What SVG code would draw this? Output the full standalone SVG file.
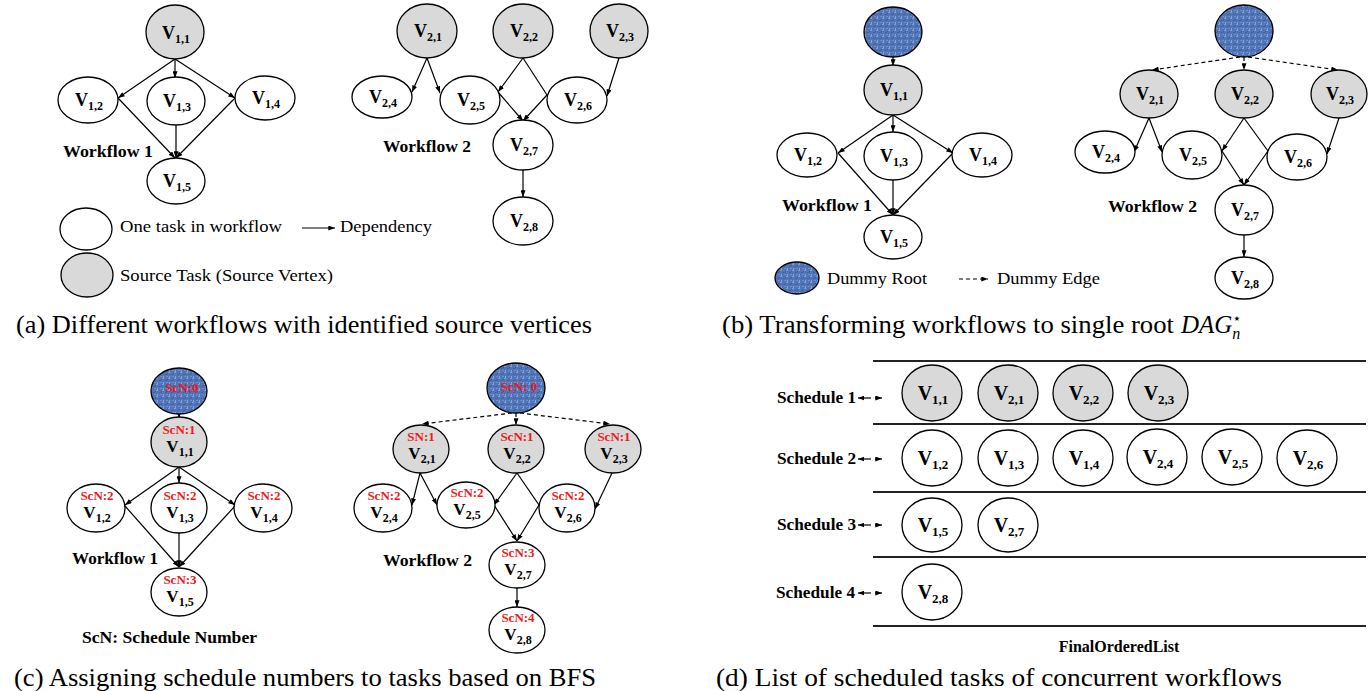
<svg xmlns="http://www.w3.org/2000/svg" width="1368" height="691" viewBox="0 0 1368 691">
<defs>
<pattern id="tex" width="6" height="6" patternUnits="userSpaceOnUse">
<rect width="6" height="6" fill="#5275b8"/>
<rect x="0" y="0" width="2" height="1" fill="#7f9dd4"/>
<rect x="3" y="2" width="2" height="1" fill="#3f609f"/>
<rect x="1" y="4" width="1" height="2" fill="#88a3d7"/>
<rect x="4" y="4" width="2" height="1" fill="#6d8ecb"/>
<rect x="5" y="1" width="1" height="1" fill="#3a5a98"/>
</pattern>
<marker id="ah" viewBox="0 0 8 6" refX="8" refY="3" markerWidth="7" markerHeight="5" markerUnits="userSpaceOnUse" orient="auto">
<path d="M0,0 L8,3 L0,6 z" fill="#000"/>
</marker>
<marker id="ahs" viewBox="0 0 8 6" refX="0" refY="3" markerWidth="6" markerHeight="5" markerUnits="userSpaceOnUse" orient="auto">
<path d="M8,0 L0,3 L8,6 z" fill="#000"/>
</marker>
<style>
ellipse{stroke:#000;stroke-width:1.3}
.w{fill:#fff}
.g{fill:#d9d9d9}
.b{fill:url(#tex)}
.e{stroke:#000;stroke-width:1.2;fill:none}
.a{marker-end:url(#ah)}
.d{stroke-dasharray:4 3}
.row{stroke:#222;stroke-width:2}
text{font-family:"Liberation Serif","Times New Roman",serif;fill:#000}
.v{font-weight:bold;font-size:18px;text-anchor:middle}
.s{font-size:12px}
.vc{font-weight:bold;font-size:17px;text-anchor:middle}
.vd{font-weight:bold;font-size:20px;text-anchor:middle}
.sd{font-size:13px}
.scn{font-weight:bold;font-size:13px;fill:#f01818;text-anchor:middle}
.wf{font-weight:bold;font-size:16px}
.lg{font-size:16px}
.sch{font-weight:bold;font-size:16px}
.cap{font-size:25px}
</style>
</defs>

<!-- connectors -->
<g id="connectors">
<!-- (a) workflow 1 -->
<path class="e a" d="M175,59 L118,98"/>
<path class="e a" d="M175,59 L175,78"/>
<path class="e a" d="M175,59 L235,98"/>
<path class="e a" d="M118,98 L175,158"/>
<path class="e a" d="M176,125 L176,158"/>
<path class="e a" d="M235,98 L176,158"/>
<!-- (a) workflow 2 -->
<path class="e a" d="M427,58 L412,92"/>
<path class="e a" d="M427,58 L440,93"/>
<path class="e a" d="M523,58 L498,92"/>
<path class="e" d="M523,58 L547,95"/>
<path class="e a" d="M498,92 L523,121"/>
<path class="e a" d="M547,95 L523,121"/>
<path class="e a" d="M619,58 L607,96"/>
<path class="e a" d="M523,170 L523,197"/>
<!-- (a) legend -->
<path class="e a" d="M302,228 L335,228"/>
<!-- (b) workflow 1 -->
<path class="e a d" d="M893,57 L893,66"/>
<path class="e a" d="M893,115 L838,153"/>
<path class="e a" d="M893,115 L893,132"/>
<path class="e a" d="M893,115 L953,153"/>
<path class="e a" d="M838,153 L893,215"/>
<path class="e a" d="M893,180 L893,215"/>
<path class="e a" d="M953,153 L893,215"/>
<!-- (b) workflow 2 -->
<path class="e a d" d="M1240,57 L1152,70"/>
<path class="e a d" d="M1244,57 L1244,70"/>
<path class="e a d" d="M1248,57 L1338,70"/>
<path class="e a" d="M1149,118 L1134,152"/>
<path class="e a" d="M1149,118 L1162,152"/>
<path class="e a" d="M1244,118 L1222,151"/>
<path class="e" d="M1244,118 L1268,151"/>
<path class="e a" d="M1222,151 L1244,185"/>
<path class="e a" d="M1268,151 L1244,185"/>
<path class="e a" d="M1339,118 L1327,154"/>
<path class="e a" d="M1244,235 L1244,257"/>
<!-- (b) legend -->
<path class="e a d" d="M959,279 L988,279"/>
<!-- (c) workflow 1 -->
<path class="e a" d="M179,413 L179,418"/>
<path class="e a" d="M179,467 L125,505"/>
<path class="e a" d="M179,467 L179,483"/>
<path class="e a" d="M179,467 L235,505"/>
<path class="e a" d="M125,506 L179,567"/>
<path class="e a" d="M179,533 L179,567"/>
<path class="e a" d="M235,506 L179,567"/>
<!-- (c) workflow 2 -->
<path class="e a d" d="M512,413 L422,424"/>
<path class="e a d" d="M516,413 L516,425"/>
<path class="e a d" d="M520,413 L610,424"/>
<path class="e a" d="M420,473 L412,505"/>
<path class="e a" d="M420,473 L437,505"/>
<path class="e a" d="M517,473 L494,505"/>
<path class="e" d="M517,473 L539,505"/>
<path class="e a" d="M494,505 L517,541"/>
<path class="e a" d="M539,505 L517,541"/>
<path class="e a" d="M612,473 L595,509"/>
<path class="e a" d="M517,588 L517,607"/>
<!-- (d) schedule pointers -->
<path class="e" d="M858,398 L871,398" style="marker-start:url(#ahs)"/>
<path class="e a" d="M875,398 L882,398"/>
<path class="e" d="M858,459 L871,459" style="marker-start:url(#ahs)"/>
<path class="e a" d="M875,459 L882,459"/>
<path class="e" d="M858,525 L871,525" style="marker-start:url(#ahs)"/>
<path class="e a" d="M875,525 L882,525"/>
<path class="e" d="M858,593 L871,593" style="marker-start:url(#ahs)"/>
<path class="e a" d="M875,593 L882,593"/>
</g>

<!-- (a) nodes -->
<g id="a-v11"><ellipse class="g" cx="175" cy="32" rx="29" ry="27"/><text class="v" x="176" y="39">V<tspan class="s" dy="4">1,1</tspan></text></g>
<g id="a-v12"><ellipse class="w" cx="88" cy="100" rx="30" ry="23"/><text class="v" x="89" y="106">V<tspan class="s" dy="4">1,2</tspan></text></g>
<g id="a-v13"><ellipse class="w" cx="176" cy="101" rx="29" ry="24"/><text class="v" x="177" y="107">V<tspan class="s" dy="4">1,3</tspan></text></g>
<g id="a-v14"><ellipse class="w" cx="265" cy="98" rx="30" ry="22"/><text class="v" x="266" y="104">V<tspan class="s" dy="4">1,4</tspan></text></g>
<g id="a-v15"><ellipse class="w" cx="176" cy="181" rx="29" ry="23"/><text class="v" x="177" y="187">V<tspan class="s" dy="4">1,5</tspan></text></g>
<g id="a-v21"><ellipse class="g" cx="427" cy="31" rx="30" ry="27"/><text class="v" x="428" y="37">V<tspan class="s" dy="4">2,1</tspan></text></g>
<g id="a-v22"><ellipse class="g" cx="523" cy="31" rx="30" ry="27"/><text class="v" x="524" y="37">V<tspan class="s" dy="4">2,2</tspan></text></g>
<g id="a-v23"><ellipse class="g" cx="619" cy="31" rx="29" ry="27"/><text class="v" x="620" y="37">V<tspan class="s" dy="4">2,3</tspan></text></g>
<g id="a-v24"><ellipse class="w" cx="382" cy="97" rx="30" ry="21"/><text class="v" x="383" y="103">V<tspan class="s" dy="4">2,4</tspan></text></g>
<g id="a-v25"><ellipse class="w" cx="470" cy="100" rx="30" ry="24"/><text class="v" x="471" y="106">V<tspan class="s" dy="4">2,5</tspan></text></g>
<g id="a-v26"><ellipse class="w" cx="577" cy="100" rx="30" ry="23"/><text class="v" x="578" y="106">V<tspan class="s" dy="4">2,6</tspan></text></g>
<g id="a-v27"><ellipse class="w" cx="523" cy="145" rx="30" ry="25"/><text class="v" x="524" y="151">V<tspan class="s" dy="4">2,7</tspan></text></g>
<g id="a-v28"><ellipse class="w" cx="523" cy="221" rx="30" ry="24"/><text class="v" x="524" y="227">V<tspan class="s" dy="4">2,8</tspan></text></g>
<g id="a-labels">
<text class="wf" x="63" y="157" textLength="90" lengthAdjust="spacingAndGlyphs">Workflow 1</text>
<text class="wf" x="383" y="152" textLength="88" lengthAdjust="spacingAndGlyphs">Workflow 2</text>
</g>
<g id="a-legend">
<ellipse class="w" cx="86" cy="229" rx="26" ry="21"/>
<ellipse class="g" cx="87" cy="275" rx="26" ry="22"/>
<text class="lg" x="120" y="232" textLength="162" lengthAdjust="spacingAndGlyphs">One task in workflow</text>
<text class="lg" x="340" y="232" textLength="92" lengthAdjust="spacingAndGlyphs">Dependency</text>
<text class="lg" x="120" y="281" textLength="213" lengthAdjust="spacingAndGlyphs">Source Task (Source Vertex)</text>
</g>
<text class="cap" x="16" y="333" textLength="576" lengthAdjust="spacingAndGlyphs">(a) Different workflows with identified source vertices</text>

<!-- (b) nodes -->
<g id="b-root1"><ellipse class="b" cx="893" cy="32" rx="29" ry="25"/></g>
<g id="b-v11"><ellipse class="g" cx="893" cy="90" rx="29" ry="25"/><text class="v" x="894" y="96">V<tspan class="s" dy="4">1,1</tspan></text></g>
<g id="b-v12"><ellipse class="w" cx="807" cy="155" rx="30" ry="22"/><text class="v" x="808" y="161">V<tspan class="s" dy="4">1,2</tspan></text></g>
<g id="b-v13"><ellipse class="w" cx="893" cy="156" rx="29" ry="24"/><text class="v" x="894" y="162">V<tspan class="s" dy="4">1,3</tspan></text></g>
<g id="b-v14"><ellipse class="w" cx="982" cy="155" rx="30" ry="22"/><text class="v" x="983" y="161">V<tspan class="s" dy="4">1,4</tspan></text></g>
<g id="b-v15"><ellipse class="w" cx="893" cy="237" rx="29" ry="22"/><text class="v" x="894" y="243">V<tspan class="s" dy="4">1,5</tspan></text></g>
<g id="b-root2"><ellipse class="b" cx="1244" cy="31" rx="29" ry="26"/></g>
<g id="b-v21"><ellipse class="g" cx="1149" cy="94" rx="29" ry="24"/><text class="v" x="1150" y="100">V<tspan class="s" dy="4">2,1</tspan></text></g>
<g id="b-v22"><ellipse class="g" cx="1244" cy="94" rx="29" ry="24"/><text class="v" x="1245" y="100">V<tspan class="s" dy="4">2,2</tspan></text></g>
<g id="b-v23"><ellipse class="g" cx="1339" cy="94" rx="28" ry="24"/><text class="v" x="1340" y="100">V<tspan class="s" dy="4">2,3</tspan></text></g>
<g id="b-v24"><ellipse class="w" cx="1105" cy="152" rx="30" ry="21"/><text class="v" x="1106" y="158">V<tspan class="s" dy="4">2,4</tspan></text></g>
<g id="b-v25"><ellipse class="w" cx="1192" cy="155" rx="30" ry="24"/><text class="v" x="1193" y="161">V<tspan class="s" dy="4">2,5</tspan></text></g>
<g id="b-v26"><ellipse class="w" cx="1297" cy="157" rx="30" ry="23"/><text class="v" x="1298" y="163">V<tspan class="s" dy="4">2,6</tspan></text></g>
<g id="b-v27"><ellipse class="w" cx="1244" cy="210" rx="29" ry="25"/><text class="v" x="1245" y="216">V<tspan class="s" dy="4">2,7</tspan></text></g>
<g id="b-v28"><ellipse class="w" cx="1244" cy="278" rx="29" ry="21"/><text class="v" x="1245" y="284">V<tspan class="s" dy="4">2,8</tspan></text></g>
<g id="b-labels">
<text class="wf" x="782" y="211" textLength="90" lengthAdjust="spacingAndGlyphs">Workflow 1</text>
<text class="wf" x="1108" y="212" textLength="89" lengthAdjust="spacingAndGlyphs">Workflow 2</text>
</g>
<g id="b-legend">
<ellipse class="b" cx="797" cy="278" rx="22" ry="16"/>
<text class="lg" x="827" y="284" textLength="100" lengthAdjust="spacingAndGlyphs">Dummy Root</text>
<text class="lg" x="997" y="284" textLength="103" lengthAdjust="spacingAndGlyphs">Dummy Edge</text>
</g>
<text class="cap" x="722" y="333" textLength="452" lengthAdjust="spacingAndGlyphs">(b) Transforming workflows to single root</text>
<text class="cap" x="1181" y="333"><tspan font-style="italic">DAG</tspan><tspan font-size="14" dy="-10" font-family="DejaVu Sans, sans-serif">⋆</tspan><tspan font-size="16" font-style="italic" dx="-9" dy="16">n</tspan></text>

<!-- (c) nodes -->
<g id="c-root1"><ellipse class="b" cx="179" cy="391" rx="28" ry="23"/><text class="scn" x="182" y="392">ScN:0</text></g>
<g id="c-v11"><ellipse class="g" cx="179" cy="442" rx="28" ry="25"/><text class="scn" x="179" y="434">ScN:1</text><text class="vc" x="180" y="452">V<tspan class="s" dy="4">1,1</tspan></text></g>
<g id="c-v12"><ellipse class="w" cx="96" cy="508" rx="29" ry="24"/><text class="scn" x="97" y="500">ScN:2</text><text class="vc" x="97" y="518">V<tspan class="s" dy="4">1,2</tspan></text></g>
<g id="c-v13"><ellipse class="w" cx="179" cy="508" rx="28" ry="25"/><text class="scn" x="180" y="500">ScN:2</text><text class="vc" x="180" y="518">V<tspan class="s" dy="4">1,3</tspan></text></g>
<g id="c-v14"><ellipse class="w" cx="263" cy="508" rx="29" ry="24"/><text class="scn" x="264" y="500">ScN:2</text><text class="vc" x="264" y="518">V<tspan class="s" dy="4">1,4</tspan></text></g>
<g id="c-v15"><ellipse class="w" cx="179" cy="592" rx="28" ry="24"/><text class="scn" x="180" y="584">ScN:3</text><text class="vc" x="180" y="602">V<tspan class="s" dy="4">1,5</tspan></text></g>
<g id="c-root2"><ellipse class="b" cx="516" cy="388" rx="29" ry="25"/><text class="scn" x="519" y="391">ScN: 0</text></g>
<g id="c-v21"><ellipse class="g" cx="421" cy="449" rx="28" ry="24"/><text class="scn" x="421" y="441">SN:1</text><text class="vc" x="422" y="459">V<tspan class="s" dy="4">2,1</tspan></text></g>
<g id="c-v22"><ellipse class="g" cx="516" cy="449" rx="28" ry="24"/><text class="scn" x="517" y="441">ScN:1</text><text class="vc" x="517" y="459">V<tspan class="s" dy="4">2,2</tspan></text></g>
<g id="c-v23"><ellipse class="g" cx="613" cy="449" rx="28" ry="24"/><text class="scn" x="614" y="441">ScN:1</text><text class="vc" x="614" y="459">V<tspan class="s" dy="4">2,3</tspan></text></g>
<g id="c-v24"><ellipse class="w" cx="383" cy="508" rx="29" ry="24"/><text class="scn" x="384" y="500">ScN:2</text><text class="vc" x="384" y="518">V<tspan class="s" dy="4">2,4</tspan></text></g>
<g id="c-v25"><ellipse class="w" cx="466" cy="505" rx="29" ry="23"/><text class="scn" x="467" y="497">ScN:2</text><text class="vc" x="467" y="515">V<tspan class="s" dy="4">2,5</tspan></text></g>
<g id="c-v26"><ellipse class="w" cx="567" cy="508" rx="28" ry="24"/><text class="scn" x="568" y="500">ScN:2</text><text class="vc" x="568" y="518">V<tspan class="s" dy="4">2,6</tspan></text></g>
<g id="c-v27"><ellipse class="w" cx="517" cy="565" rx="28" ry="23"/><text class="scn" x="518" y="557">ScN:3</text><text class="vc" x="518" y="575">V<tspan class="s" dy="4">2,7</tspan></text></g>
<g id="c-v28"><ellipse class="w" cx="517" cy="630" rx="28" ry="23"/><text class="scn" x="518" y="622">ScN:4</text><text class="vc" x="518" y="640">V<tspan class="s" dy="4">2,8</tspan></text></g>
<g id="c-labels">
<text class="wf" x="72" y="564" textLength="86" lengthAdjust="spacingAndGlyphs">Workflow 1</text>
<text class="wf" x="383" y="566" textLength="89" lengthAdjust="spacingAndGlyphs">Workflow 2</text>
<text class="wf" x="82" y="643" textLength="175" lengthAdjust="spacingAndGlyphs">ScN: Schedule Number</text>
</g>
<text class="cap" x="14" y="686" textLength="582" lengthAdjust="spacingAndGlyphs">(c) Assigning schedule numbers to tasks based on BFS</text>

<!-- (d) schedule list -->
<g id="d-rows">
<line class="row" x1="873" y1="361" x2="1366" y2="361"/>
<line class="row" x1="873" y1="424" x2="1366" y2="424"/>
<line class="row" x1="873" y1="492" x2="1366" y2="492"/>
<line class="row" x1="873" y1="557" x2="1366" y2="557"/>
<line class="row" x1="873" y1="626" x2="1366" y2="626"/>
</g>
<g id="d-labels">
<text class="sch" x="777" y="403" textLength="79" lengthAdjust="spacingAndGlyphs">Schedule 1</text>
<text class="sch" x="777" y="464" textLength="79" lengthAdjust="spacingAndGlyphs">Schedule 2</text>
<text class="sch" x="777" y="530" textLength="79" lengthAdjust="spacingAndGlyphs">Schedule 3</text>
<text class="sch" x="776" y="598" textLength="79" lengthAdjust="spacingAndGlyphs">Schedule 4</text>
<text class="wf" x="1119" y="652" font-size="13" text-anchor="middle">FinalOrderedList</text>
</g>
<g id="d-s1-v11"><ellipse class="g" cx="932" cy="393" rx="30" ry="28"/><text class="vd" x="933" y="400">V<tspan class="sd" dy="4">1,1</tspan></text></g>
<g id="d-s1-v21"><ellipse class="g" cx="1008" cy="393" rx="30" ry="28"/><text class="vd" x="1009" y="400">V<tspan class="sd" dy="4">2,1</tspan></text></g>
<g id="d-s1-v22"><ellipse class="g" cx="1083" cy="393" rx="30" ry="28"/><text class="vd" x="1084" y="400">V<tspan class="sd" dy="4">2,2</tspan></text></g>
<g id="d-s1-v23"><ellipse class="g" cx="1158" cy="393" rx="30" ry="28"/><text class="vd" x="1159" y="400">V<tspan class="sd" dy="4">2,3</tspan></text></g>
<g id="d-s2-v12"><ellipse class="w" cx="932" cy="458" rx="30" ry="28"/><text class="vd" x="933" y="465">V<tspan class="sd" dy="4">1,2</tspan></text></g>
<g id="d-s2-v13"><ellipse class="w" cx="1008" cy="458" rx="30" ry="28"/><text class="vd" x="1009" y="465">V<tspan class="sd" dy="4">1,3</tspan></text></g>
<g id="d-s2-v14"><ellipse class="w" cx="1083" cy="458" rx="30" ry="28"/><text class="vd" x="1084" y="465">V<tspan class="sd" dy="4">1,4</tspan></text></g>
<g id="d-s2-v24"><ellipse class="w" cx="1157" cy="457" rx="30" ry="28"/><text class="vd" x="1158" y="464">V<tspan class="sd" dy="4">2,4</tspan></text></g>
<g id="d-s2-v25"><ellipse class="w" cx="1232" cy="457" rx="30" ry="28"/><text class="vd" x="1233" y="464">V<tspan class="sd" dy="4">2,5</tspan></text></g>
<g id="d-s2-v26"><ellipse class="w" cx="1307" cy="458" rx="30" ry="28"/><text class="vd" x="1308" y="465">V<tspan class="sd" dy="4">2,6</tspan></text></g>
<g id="d-s3-v15"><ellipse class="w" cx="932" cy="525" rx="30" ry="27"/><text class="vd" x="933" y="532">V<tspan class="sd" dy="4">1,5</tspan></text></g>
<g id="d-s3-v27"><ellipse class="w" cx="1008" cy="525" rx="30" ry="27"/><text class="vd" x="1009" y="532">V<tspan class="sd" dy="4">2,7</tspan></text></g>
<g id="d-s4-v28"><ellipse class="w" cx="932" cy="592" rx="30" ry="28"/><text class="vd" x="933" y="599">V<tspan class="sd" dy="4">2,8</tspan></text></g>
<text class="cap" x="716" y="686" textLength="566" lengthAdjust="spacingAndGlyphs">(d) List of scheduled tasks of concurrent workflows</text>
</svg>
